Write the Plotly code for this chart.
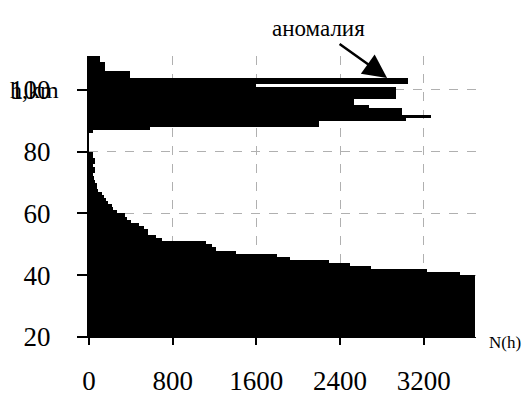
import plotly.graph_objects as go

# Altitude bins (km, bottom edge of each 1-km bin) and counts N(h)
h_lower = list(range(20, 80))
n_lower = ([3692] * 20 +                      # 20..39
           [3549, 3232, 2700, 2500, 2295,    # 40..44
            1920, 1800, 1407, 1216, 1180,    # 45..49
            1121, 700, 645, 565, 560,        # 50..54
            530, 480, 400, 360, 343,         # 55..59
            264, 230, 216, 184, 160,         # 60..64
            140, 120, 89, 80, 73,            # 65..69
            57, 50, 40, 57, 57,              # 70..74
            41, 57, 57, 41, 41])             # 75..79

h_upper = list(range(86, 111))
n_upper = [40, 580, 2200, 2200, 3030,        # 86..90
           3267, 2990, 2990, 2676, 2533,     # 91..95
           2533, 2933, 2933, 2933, 2933,     # 96..100
           1600, 3050, 3050, 390, 390,       # 101..105
           152, 152, 152, 105, 105]          # 106..110

x_ticks = [0, 800, 1600, 2400, 3200]
y_ticks = [20, 40, 60, 80, 100]

h_all = h_lower + h_upper
n_all = n_lower + n_upper

FONT = "Liberation Serif"

fig = go.Figure()
fig.add_trace(go.Bar(
    x=n_all,
    y=[h + 0.5 for h in h_all],
    width=[1.0] * len(h_all),
    orientation="h",
    marker=dict(color="black", line=dict(width=0)),
    showlegend=False,
    hoverinfo="skip",
))

fig.update_layout(
    width=532, height=399,
    margin=dict(l=89, r=56, t=56, b=62),
    paper_bgcolor="white",
    plot_bgcolor="white",
    bargap=0,
    font=dict(family=FONT, color="black"),
    xaxis=dict(
        range=[0, 3700],
        automargin=False,
        tickvals=x_ticks,
        ticktext=[str(v) for v in x_ticks],
        ticks="outside", ticklen=7, tickwidth=1.5, tickcolor="black",
        ticklabelstandoff=13,
        tickfont=dict(family=FONT, size=27, color="black"),
        showline=True, linecolor="black", linewidth=1,
        showgrid=True, gridcolor="#b0b0b0", gridwidth=1, griddash="dash",
        zeroline=False,
    ),
    yaxis=dict(
        range=[20, 111],
        automargin=False,
        tickvals=y_ticks,
        ticktext=[str(v) for v in y_ticks],
        ticks="outside", ticklen=10, tickwidth=1.5, tickcolor="black",
        ticklabelstandoff=21,
        tickfont=dict(family=FONT, size=27, color="black"),
        showline=True, linecolor="black", linewidth=2,
        showgrid=True, gridcolor="#b0b0b0", gridwidth=1, griddash="dash",
        zeroline=False,
    ),
    annotations=[
        dict(text="аномалия", xref="paper", yref="paper", x=0.592, y=1.0996,
             xanchor="center", yanchor="middle", showarrow=False,
             font=dict(family=FONT, size=23, color="black")),
        dict(text="", xref="x", yref="y", x=2850, y=103.9,
             ax=-49, ay=-35, showarrow=True, arrowhead=2, arrowsize=1.9,
             arrowwidth=2.5, arrowcolor="black"),
        dict(text="N(h)", xref="paper", yref="paper", x=1.028, y=-0.021,
             xanchor="left", yanchor="middle", showarrow=False,
             font=dict(family=FONT, size=17, color="black")),
        dict(text="h,km", xref="paper", yref="y", x=-0.209, y=100,
             xanchor="left", yanchor="middle", showarrow=False,
             font=dict(family=FONT, size=24, color="black")),
    ],
)

fig.write_html("out.html")
